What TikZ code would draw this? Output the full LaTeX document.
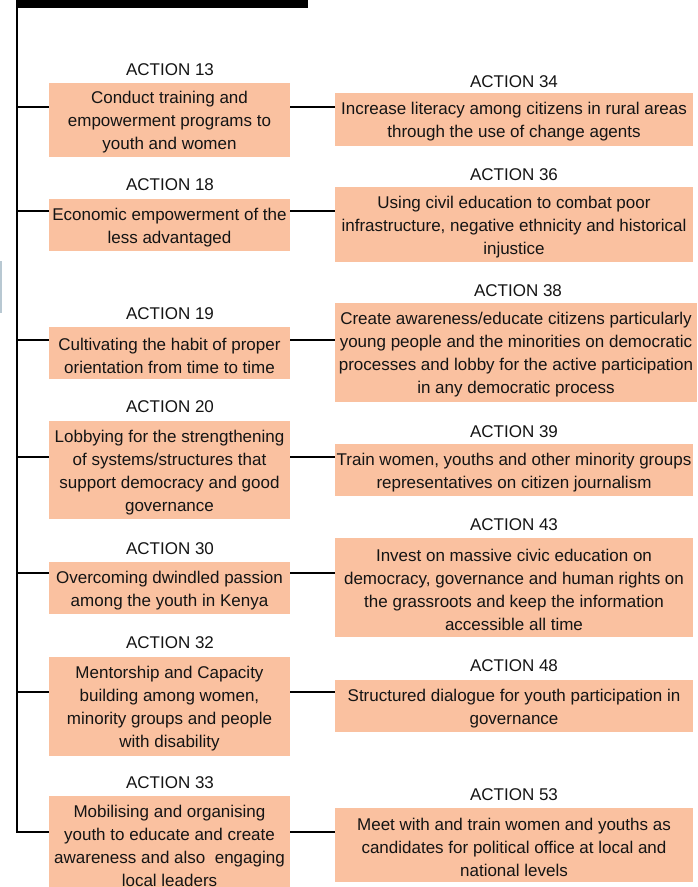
\documentclass[tikz,border=0pt]{standalone}
\usepackage{fontspec}
\setmainfont{Liberation Sans}
\definecolor{boxfill}{RGB}{250,193,160}
\definecolor{stripgray}{RGB}{184,200,210}
\definecolor{inktext}{RGB}{20,20,20}
% extra room above the first line of a box text
\newcommand{\firstline}{\rule{0pt}{17.5pt}}
\begin{document}
\begin{tikzpicture}[x=1pt,y=-1pt,
  every node/.style={font=\fontsize{17}{23}\selectfont, text=inktext, inner sep=0pt},
  actbox/.style={fill=boxfill, align=center},
  leftbox/.style={actbox, minimum width=241pt},
  rightbox/.style={actbox, minimum width=358pt},
  tag/.style={anchor=center},
  link/.style={draw=black, line width=2pt}]
\useasboundingbox (0,0) rectangle (697,887);
\clip (0,0) rectangle (697,887);

% header bar and small side strip
\fill[black] (16,0) rectangle (308,8);
\fill[stripgray] (0,261) rectangle (2,313);

% left column of actions
\node[tag] (t13) at (170,70) {ACTION 13};
\node[leftbox, minimum height=74pt] (a13) at (169.5,120) {\firstline Conduct training and\\empowerment programs to\\youth and women};
\node[tag] (t18) at (170,185) {ACTION 18};
\node[leftbox, minimum height=52pt] (a18) at (169.5,225) {\firstline Economic empowerment of the\\less advantaged};
\node[tag] (t19) at (170,314) {ACTION 19};
\node[leftbox, minimum height=52pt] (a19) at (169.5,353) {\firstline Cultivating the habit of proper\\orientation from time to time};
\node[tag] (t20) at (170,407) {ACTION 20};
\node[leftbox, minimum height=98pt] (a20) at (169.5,470) {\firstline Lobbying for the strengthening\\of systems/structures that\\support democracy and good\\governance};
\node[tag] (t30) at (170,549) {ACTION 30};
\node[leftbox, minimum height=52pt] (a30) at (169.5,588) {\firstline Overcoming dwindled passion\\among the youth in Kenya};
\node[tag] (t32) at (170,643) {ACTION 32};
\node[leftbox, minimum height=99pt] (a32) at (169.5,706) {\firstline Mentorship and Capacity\\building among women,\\minority groups and people\\with disability};
\node[tag] (t33) at (170,783) {ACTION 33};
\node[leftbox, minimum height=95pt] (a33) at (169.5,843.5) {\firstline Mobilising and organising\\youth to educate and create\\awareness and also\ \ engaging\\local leaders};

% right column of actions
\node[tag] (t34) at (514,82) {ACTION 34};
\node[rightbox, minimum height=53pt] (b34) at (514,119.5) {\firstline Increase literacy among citizens in rural areas\\through the use of change agents};
\node[tag] (t36) at (514,175) {ACTION 36};
\node[rightbox, minimum height=75pt] (b36) at (514,224.5) {\firstline Using civil education to combat poor\\infrastructure, negative ethnicity and historical\\injustice};
\node[tag] (t38) at (518,291) {ACTION 38};
\node[rightbox, minimum width=362pt, minimum height=99pt] (b38) at (516,352.5) {\firstline Create awareness/educate citizens particularly\\young people and the minorities on democratic\\processes and lobby for the active participation\\in any democratic process};
\node[tag] (t39) at (514,432) {ACTION 39};
\node[rightbox, minimum height=52pt] (b39) at (514,470) {\firstline Train women, youths and other minority groups\\representatives on citizen journalism};
\node[tag] (t43) at (514,525) {ACTION 43};
\node[rightbox, minimum height=99pt] (b43) at (514,587.5) {\firstline Invest on massive civic education on\\democracy, governance and human rights on\\the grassroots and keep the information\\accessible all time};
\node[tag] (t48) at (514,666) {ACTION 48};
\node[rightbox, minimum height=52pt] (b48) at (514,706) {\firstline Structured dialogue for youth participation in\\governance};
\node[tag] (t53) at (514,795) {ACTION 53};
\node[rightbox, minimum height=74pt] (b53) at (514,845) {\firstline Meet with and train women and youths as\\candidates for political office at local and\\national levels};

% spine and branch points
\coordinate (top) at (16.8,0);
\coordinate (s13) at (16.8,107);
\coordinate (s18) at (16.8,211);
\coordinate (s19) at (16.8,340);
\coordinate (s20) at (16.8,457);
\coordinate (s30) at (16.8,573);
\coordinate (s32) at (16.8,692);
\coordinate (s33) at (16.8,832);

\draw[link] (top) -- (s33) -- (s33 -| a33.west);
\foreach \k/\r in {13/34,18/36,19/38,20/39,30/43,32/48,33/53}{
  \draw[link] (s\k) -- (s\k -| a\k.west);
  \draw[link] (a\k.east |- s\k) -- (b\r.west |- s\k);
}
\end{tikzpicture}
\end{document}
